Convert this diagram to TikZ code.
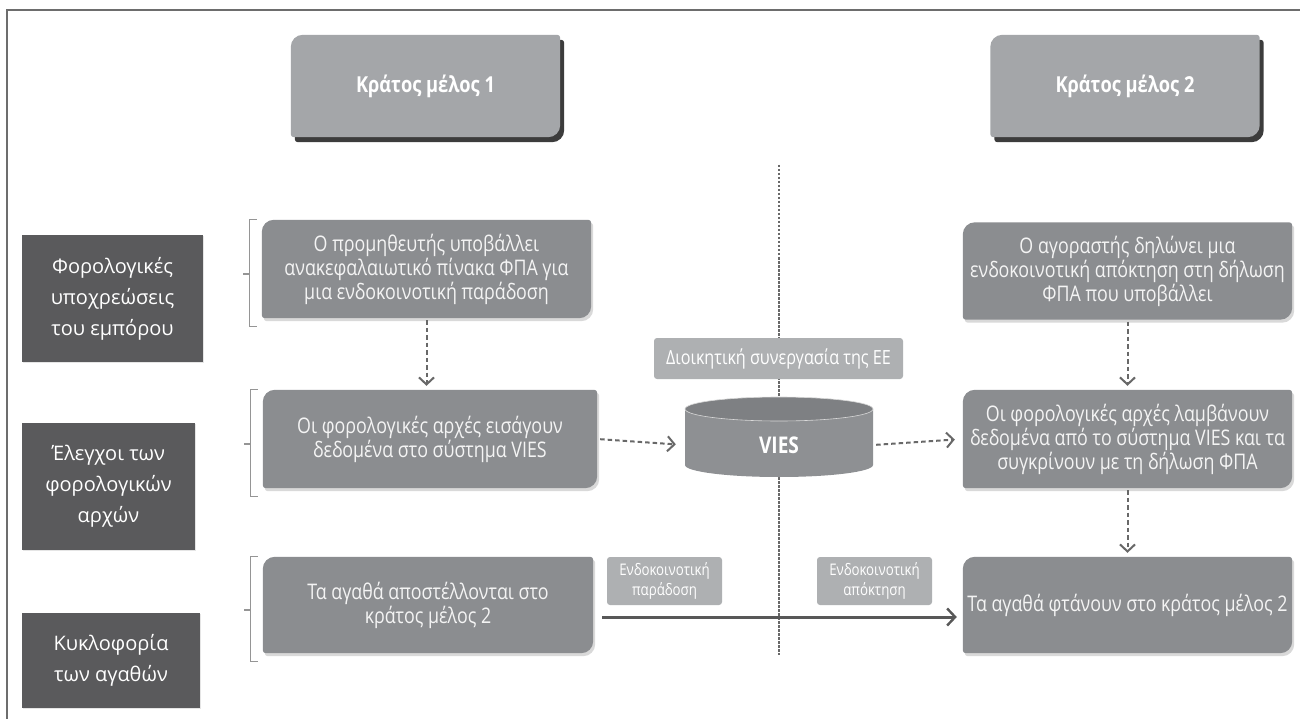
\documentclass[tikz,border=0pt]{standalone}
\usepackage{fontspec}
\setmainfont{Open Sans}
\newfontfamily\cond[FakeStretch=0.83]{Open Sans}
\usetikzlibrary{arrows.meta,shadows,calc}
\pgfdeclarelayer{bg}
\pgfsetlayers{bg,main}
\definecolor{hdr}{HTML}{A4A6A9}
\definecolor{proc}{HTML}{8B8D90}
\definecolor{catc}{HTML}{5A5A5C}
\definecolor{lblc}{HTML}{AEB0B2}
\definecolor{lnc}{HTML}{686868}
\definecolor{frm}{HTML}{6D6D6D}
\definecolor{cylbody}{HTML}{8E9093}
\definecolor{cyltop}{HTML}{7E8083}
\definecolor{ptext}{HTML}{F4F4F4}
\definecolor{hshadow}{HTML}{3C3C3C}
% #1 style, #2 node, #3 big radius, #4 small radius, #5 #6 shift
\newcommand\leaffill[6]{%
  \fill[#1] ([shift={(#5,#6)}]#2.west) [rounded corners=#3] -- ([shift={(#5,#6)}]#2.north west)
    [rounded corners=#4] -- ([shift={(#5,#6)}]#2.north east)
    [rounded corners=#3] -- ([shift={(#5,#6)}]#2.south east)
    [rounded corners=#4] -- ([shift={(#5,#6)}]#2.south west) [sharp corners] -- cycle;}
\begin{document}
\begin{tikzpicture}[x=1pt,y=-1pt,
  hdrbox/.style={minimum width=269pt, minimum height=102pt, inner sep=0pt,
    text=white, font=\cond\bfseries\fontsize{22}{26}\selectfont},
  procbox/.style={inner sep=0pt, text=ptext, align=center,
    font=\cond\fontsize{21.5}{24}\selectfont},
  catbox/.style={fill=catc, inner sep=0pt, text=white, align=center,
    font=\fontsize{20}{31}\selectfont,
    drop shadow={shadow xshift=1pt, shadow yshift=-1pt, fill=black!20, opacity=0.5}},
  lblbox/.style={fill=lblc, rounded corners=3pt, inner sep=0pt, text=white, align=center},
  eufont/.style={font=\cond\fontsize{19.5}{22}\selectfont},
  smfont/.style={font=\cond\fontsize{16}{20}\selectfont},
  dasharrow/.style={draw=lnc, line width=2pt, dash pattern=on 4.5pt off 3pt,
    -{Straight Barb[length=7pt,width=15pt,line width=2pt]}},
  solidarrow/.style={draw=lnc!85!black, line width=3pt, -{Straight Barb[length=8pt,width=17pt,line width=2.4pt]}},
  brkline/.style={draw=lnc!70, line width=1.1pt},
  vline/.style={draw=lnc, line width=2pt, dash pattern=on 2.5pt off 1.5pt},
  frame/.style={draw=frm, line width=2.5pt}
]
\useasboundingbox (0,0) rectangle (1300,719);
% frame
\draw[frame] (7,719) -- (7,10) -- (1300,10);

% headers
\node[hdrbox] (h1) at (425.5,86) {Κράτος μέλος 1};
\node[hdrbox] (h2) at (1125,86) {Κράτος μέλος 2};

% category boxes
\node[catbox, minimum width=181pt, minimum height=127pt] (c1) at (112.5,298.5) {Φορολογικές\\υποχρεώσεις\\του εμπόρου};
\node[catbox, minimum width=173pt, minimum height=127pt] (c2) at (108.5,486.5) {Έλεγχοι των\\φορολογικών\\αρχών};
\node[catbox, minimum width=178pt, minimum height=95pt] (c3) at (111,660.5) {Κυκλοφορία\\των αγαθών};

% process boxes left
\node[procbox, minimum width=329pt, minimum height=98pt] (A) at (426.5,269) {Ο προμηθευτής υποβάλλει\\ανακεφαλαιωτικό πίνακα ΦΠΑ για\\μια ενδοκοινοτική παράδοση};
\node[procbox, minimum width=334pt, minimum height=98pt] (B) at (430,439) {Οι φορολογικές αρχές εισάγουν\\δεδομένα στο σύστημα VIES};
\node[procbox, minimum width=330pt, minimum height=96pt] (C) at (428,605) {Τα αγαθά αποστέλλονται στο\\κράτος μέλος 2};

% process boxes right
\node[procbox, minimum width=329pt, minimum height=97pt] (D) at (1127.5,271) {Ο αγοραστής δηλώνει μια\\ενδοκοινοτική απόκτηση στη δήλωση\\ΦΠΑ που υποβάλλει};
\node[procbox, minimum width=329pt, minimum height=98pt] (E) at (1127.5,439) {Οι φορολογικές αρχές λαμβάνουν\\δεδομένα από το σύστημα VIES και τα\\συγκρίνουν με τη δήλωση ΦΠΑ};
\node[procbox, minimum width=329pt, minimum height=96pt] (F) at (1127.5,605) {Τα αγαθά φτάνουν στο κράτος μέλος 2};

% separator line and box backgrounds
\coordinate (ltop) at (779,165);
\coordinate (lbot) at (779,655);
\begin{pgfonlayer}{bg}
  \fill[white] (0,0) rectangle (1300,719);
  \draw[vline] (ltop) -- (lbot);
  \foreach \n in {h1,h2}{
    \leaffill{hshadow}{\n}{12pt}{3pt}{4}{5}
    \leaffill{hdr}{\n}{12pt}{3pt}{0}{0}
  }
  \foreach \n in {A,B,C,D,E,F}{
    \leaffill{black!15}{\n}{12pt}{3pt}{2}{3}
    \leaffill{proc}{\n}{12pt}{3pt}{0}{0}
  }
\end{pgfonlayer}

% brackets
\foreach \n in {A,B,C}{
  \draw[brkline] ($(\n.north west)+(-5,0)$) -- ($(\n.north west)+(-12,0)$) -- ($(\n.south west)+(-12,8)$) -- ($(\n.south west)+(-5,8)$);
  \draw[brkline] ($(\n.west)+(-12,5)$) -- ($(\n.west)+(-19,5)$);
}

% EU label
\node[lblbox, eufont, minimum width=249pt, minimum height=41pt] (eu) at (778.5,358.5) {Διοικητική συνεργασία της ΕΕ};

% VIES cylinder
\fill[cylbody] (685,409) -- (685,465) arc[start angle=180, end angle=360, x radius=94pt, y radius=12pt] -- (873,409) -- cycle;
\fill[cyltop] (779,409) ellipse [x radius=94pt, y radius=12pt];
\draw[white!70!gray, line width=0.6pt] (779,409) ellipse [x radius=94pt, y radius=12pt];
\node[minimum width=188pt, minimum height=56pt, inner sep=0pt, text=white,
  font=\cond\bfseries\fontsize{23}{26}\selectfont] (vies) at (779,445) {VIES};

% small labels
\node[lblbox, smfont, minimum width=115pt, minimum height=48pt] (p1) at (664.5,581) {Ενδοκοινοτική\\παράδοση};
\node[lblbox, smfont, minimum width=115pt, minimum height=48pt] (p2) at (874.5,581) {Ενδοκοινοτική\\απόκτηση};

% connectors
\draw[dasharrow, shorten <=2pt, shorten >=4pt] (A.south) -- (A.south |- B.north);
\draw[dasharrow, shorten <=3pt, shorten >=9pt] (B.east) -- (vies.west);
\draw[dasharrow, shorten <=3pt, shorten >=8pt] (vies.east) -- (E.west);
\draw[dasharrow, shorten <=2pt, shorten >=4pt] (D.south) -- (D.south |- E.north);
\draw[dasharrow, shorten <=2pt, shorten >=4pt] (E.south) -- (E.south |- F.north);
\draw[solidarrow] ($(C.east)+(9,12)$) -- ($(F.west)+(-6,12)$);
\end{tikzpicture}
\end{document}
